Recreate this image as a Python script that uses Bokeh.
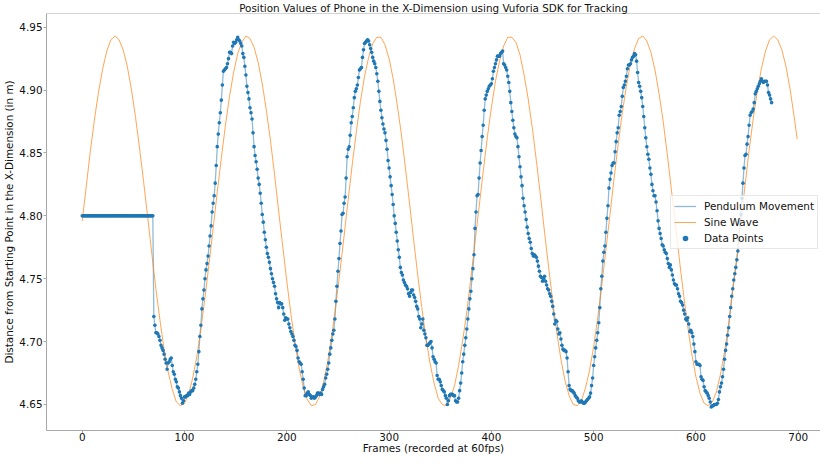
from bokeh.plotting import figure
from bokeh.models import Range1d, FixedTicker, PrintfTickFormatter, Legend, LegendItem, Span
from bokeh.embed import file_html
from bokeh.resources import INLINE

# ---------------- data ----------------
# phone lying still before the pendulum is released (frames 0-69)
still_phase = [
    4.800, 4.800, 4.800, 4.800, 4.800, 4.800, 4.800, 4.800, 4.800, 4.800,
    4.800, 4.800, 4.800, 4.800, 4.800, 4.800, 4.800, 4.800, 4.800, 4.800,
    4.800, 4.800, 4.800, 4.800, 4.800, 4.800, 4.800, 4.800, 4.800, 4.800,
    4.800, 4.800, 4.800, 4.800, 4.800, 4.800, 4.800, 4.800, 4.800, 4.800,
    4.800, 4.800, 4.800, 4.800, 4.800, 4.800, 4.800, 4.800, 4.800, 4.800,
    4.800, 4.800, 4.800, 4.800, 4.800, 4.800, 4.800, 4.800, 4.800, 4.800,
    4.800, 4.800, 4.800, 4.800, 4.800, 4.800, 4.800, 4.800, 4.800, 4.800,
]
# frames 70-199
swing_1 = [
    4.720, 4.713, 4.707, 4.707, 4.706, 4.704, 4.701, 4.697, 4.695, 4.693,
    4.690, 4.686, 4.683, 4.678, 4.683, 4.684, 4.686, 4.687, 4.681, 4.676,
    4.674, 4.670, 4.668, 4.664, 4.663, 4.660, 4.657, 4.655, 4.651, 4.653,
    4.656, 4.656, 4.657, 4.657, 4.659, 4.658, 4.660, 4.661, 4.661, 4.663,
    4.666, 4.670, 4.676, 4.682, 4.692, 4.704, 4.713, 4.726, 4.734, 4.741,
    4.750, 4.757, 4.762, 4.768, 4.776, 4.784, 4.792, 4.803, 4.810, 4.816,
    4.826, 4.840, 4.855, 4.865, 4.874, 4.882, 4.892, 4.904, 4.915, 4.916,
    4.917, 4.918, 4.921, 4.925, 4.930, 4.930, 4.929, 4.935, 4.938, 4.937,
    4.938, 4.940, 4.942, 4.940, 4.939, 4.937, 4.935, 4.929, 4.926, 4.919,
    4.912, 4.903, 4.898, 4.893, 4.886, 4.882, 4.877, 4.866, 4.855, 4.848,
    4.843, 4.837, 4.830, 4.825, 4.818, 4.810, 4.801, 4.795, 4.787, 4.781,
    4.775, 4.770, 4.767, 4.763, 4.758, 4.754, 4.750, 4.747, 4.744, 4.738,
    4.734, 4.731, 4.727, 4.731, 4.730, 4.730, 4.727, 4.722, 4.717, 4.719,
]
# frames 200-329
swing_2 = [
    4.718, 4.718, 4.714, 4.711, 4.708, 4.706, 4.704, 4.701, 4.697, 4.696,
    4.693, 4.687, 4.684, 4.683, 4.682, 4.676, 4.670, 4.663, 4.657, 4.657,
    4.659, 4.660, 4.658, 4.657, 4.655, 4.656, 4.656, 4.655, 4.656, 4.657,
    4.659, 4.659, 4.658, 4.659, 4.658, 4.662, 4.664, 4.666, 4.671, 4.674,
    4.678, 4.683, 4.690, 4.695, 4.701, 4.706, 4.709, 4.718, 4.732, 4.744,
    4.756, 4.766, 4.778, 4.788, 4.801, 4.802, 4.810, 4.815, 4.830, 4.847,
    4.853, 4.855, 4.864, 4.874, 4.879, 4.886, 4.894, 4.899, 4.901, 4.904,
    4.910, 4.916, 4.917, 4.918, 4.926, 4.932, 4.937, 4.938, 4.939, 4.940,
    4.939, 4.936, 4.933, 4.930, 4.926, 4.923, 4.921, 4.918, 4.913, 4.907,
    4.899, 4.891, 4.884, 4.878, 4.873, 4.869, 4.866, 4.860, 4.853, 4.844,
    4.838, 4.831, 4.824, 4.817, 4.809, 4.800, 4.794, 4.787, 4.780, 4.773,
    4.767, 4.759, 4.755, 4.753, 4.749, 4.747, 4.745, 4.744, 4.742, 4.738,
    4.736, 4.739, 4.741, 4.741, 4.737, 4.735, 4.732, 4.728, 4.726, 4.720,
]
# frames 330-459
swing_3 = [
    4.718, 4.711, 4.714, 4.718, 4.709, 4.706, 4.703, 4.697, 4.697, 4.698,
    4.699, 4.700, 4.695, 4.688, 4.686, 4.684, 4.683, 4.673, 4.670, 4.670,
    4.668, 4.665, 4.662, 4.661, 4.660, 4.657, 4.655, 4.650, 4.653, 4.657,
    4.658, 4.658, 4.658, 4.657, 4.657, 4.653, 4.652, 4.652, 4.655, 4.661,
    4.667, 4.675, 4.684, 4.690, 4.697, 4.703, 4.710, 4.718, 4.726, 4.734,
    4.740, 4.750, 4.758, 4.769, 4.790, 4.803, 4.816, 4.817, 4.830, 4.842,
    4.852, 4.863, 4.872, 4.884, 4.893, 4.896, 4.899, 4.901, 4.903, 4.904,
    4.905, 4.909, 4.915, 4.918, 4.921, 4.924, 4.927, 4.927, 4.927, 4.929,
    4.930, 4.931, 4.921, 4.920, 4.918, 4.916, 4.911, 4.906, 4.899, 4.890,
    4.883, 4.876, 4.870, 4.865, 4.863, 4.862, 4.855, 4.847, 4.839, 4.831,
    4.824, 4.814, 4.808, 4.803, 4.797, 4.791, 4.786, 4.782, 4.779, 4.774,
    4.770, 4.768, 4.769, 4.768, 4.767, 4.764, 4.760, 4.756, 4.752, 4.751,
    4.748, 4.750, 4.752, 4.748, 4.745, 4.742, 4.741, 4.738, 4.736, 4.732,
]
# frames 460-589
swing_4 = [
    4.728, 4.722, 4.714, 4.717, 4.716, 4.710, 4.706, 4.707, 4.702, 4.697,
    4.694, 4.693, 4.693, 4.692, 4.687, 4.676, 4.665, 4.662, 4.661, 4.661,
    4.660, 4.659, 4.657, 4.656, 4.655, 4.653, 4.652, 4.652, 4.653, 4.652,
    4.651, 4.651, 4.652, 4.653, 4.654, 4.655, 4.656, 4.659, 4.665, 4.671,
    4.681, 4.688, 4.695, 4.701, 4.707, 4.715, 4.727, 4.742, 4.752, 4.764,
    4.771, 4.776, 4.787, 4.798, 4.808, 4.822, 4.829, 4.834, 4.840, 4.842,
    4.842, 4.851, 4.859, 4.866, 4.870, 4.880, 4.883, 4.887, 4.895, 4.902,
    4.904, 4.907, 4.911, 4.917, 4.920, 4.920, 4.921, 4.924, 4.926, 4.927,
    4.929, 4.928, 4.923, 4.914, 4.906, 4.903, 4.899, 4.894, 4.887, 4.879,
    4.870, 4.862, 4.855, 4.849, 4.845, 4.838, 4.833, 4.825, 4.820, 4.816,
    4.816, 4.811, 4.804, 4.796, 4.790, 4.786, 4.782, 4.777, 4.776, 4.773,
    4.771, 4.770, 4.766, 4.762, 4.759, 4.761, 4.757, 4.753, 4.749, 4.746,
    4.745, 4.745, 4.742, 4.738, 4.736, 4.732, 4.731, 4.729, 4.725, 4.722,
]
# frames 590-674
swing_5 = [
    4.718, 4.717, 4.719, 4.714, 4.708, 4.709, 4.707, 4.704, 4.698, 4.692,
    4.684, 4.682, 4.682, 4.682, 4.681, 4.672, 4.670, 4.669, 4.664, 4.661,
    4.660, 4.659, 4.657, 4.655, 4.652, 4.648, 4.649, 4.649, 4.650, 4.650,
    4.650, 4.651, 4.654, 4.660, 4.664, 4.667, 4.672, 4.678, 4.686, 4.693,
    4.698, 4.705, 4.711, 4.720, 4.727, 4.736, 4.742, 4.749, 4.754, 4.759,
    4.765, 4.772, 4.781, 4.795, 4.801, 4.814, 4.826, 4.838, 4.848, 4.849,
    4.857, 4.863, 4.872, 4.880, 4.882, 4.883, 4.885, 4.890, 4.897, 4.899,
    4.901, 4.903, 4.905, 4.907, 4.909, 4.907, 4.906, 4.907, 4.907, 4.907,
    4.904, 4.898, 4.896, 4.893, 4.890,
]

# reference sine wave, read every 4 frames (0..696) plus the last frame 699
sine_values = [
    4.796, 4.824, 4.852, 4.877, 4.899, 4.917, 4.931, 4.940, 4.943, 4.940,
    4.932, 4.919, 4.901, 4.879, 4.854, 4.827, 4.799, 4.770, 4.742, 4.717,
    4.694, 4.676, 4.662, 4.652, 4.649, 4.651, 4.658, 4.671, 4.688, 4.710,
    4.735, 4.762, 4.790,
    4.819, 4.846, 4.872, 4.895, 4.914, 4.929, 4.938, 4.943, 4.941, 4.934,
    4.922, 4.905, 4.884, 4.860, 4.833, 4.804, 4.776, 4.748, 4.722, 4.699,
    4.679, 4.664, 4.654, 4.649, 4.650, 4.656, 4.668, 4.684, 4.705, 4.729,
    4.756, 4.784,
    4.813, 4.841, 4.867, 4.891, 4.911, 4.926, 4.937, 4.942, 4.942, 4.936,
    4.925, 4.909, 4.888, 4.865, 4.838, 4.810, 4.781, 4.753, 4.727, 4.703,
    4.683, 4.667, 4.655, 4.650, 4.649, 4.655, 4.665, 4.681, 4.701, 4.724,
    4.751, 4.779,
    4.807, 4.835, 4.862, 4.886, 4.907, 4.923, 4.935, 4.942, 4.942, 4.938,
    4.928, 4.912, 4.893, 4.870, 4.844, 4.816, 4.787, 4.759, 4.732, 4.707,
    4.686, 4.669, 4.657, 4.650, 4.649, 4.653, 4.663, 4.677, 4.696, 4.719,
    4.745, 4.773,
    4.801, 4.830, 4.857, 4.882, 4.903, 4.921, 4.933, 4.941, 4.943, 4.939,
    4.930, 4.916, 4.897, 4.875, 4.849, 4.821, 4.793, 4.764, 4.737, 4.712,
    4.690, 4.672, 4.659, 4.651, 4.649, 4.652, 4.660, 4.674, 4.692, 4.714,
    4.740, 4.767,
    4.796, 4.824, 4.852, 4.877, 4.899, 4.917, 4.931, 4.940, 4.943, 4.940,
    4.932, 4.919, 4.901, 4.879, 4.861,
]
sine_frames = list(range(0, 697, 4)) + [699]

x_ticks = [0, 100, 200, 300, 400, 500, 600, 700]
y_ticks = [4.65, 4.70, 4.75, 4.80, 4.85, 4.90, 4.95]

position = still_phase + swing_1 + swing_2 + swing_3 + swing_4 + swing_5
frames = list(range(len(position)))

# ---------------- figure ----------------
FONT = "DejaVu Sans"
FS = "10.4px"
TXT = "#111111"
SPINE = "#a8a8a8"

p = figure(
    width=820, height=456,
    output_backend="svg", toolbar_location=None,
    x_range=Range1d(-34.95, 721.8), y_range=Range1d(4.6293, 4.9609),
    min_border_left=43, min_border_right=0, min_border_top=0, min_border_bottom=0,
    title="Position Values of Phone in the X-Dimension using Vuforia SDK for Tracking",
    background_fill_color="white", border_fill_color="white",
)
p.outline_line_color = None
p.grid.visible = False

p.title.text_font = FONT
p.title.text_font_size = FS
p.title.text_font_style = "normal"
p.title.text_color = TXT
p.title.align = "center"
p.title.offset = 7
p.title.standoff = -1

for ax in (p.xaxis[0], p.yaxis[0]):
    ax.axis_line_color = SPINE
    ax.major_tick_line_color = SPINE
    ax.minor_tick_line_color = None
    ax.major_tick_in = 0
    ax.major_tick_out = 3
    ax.major_label_text_font = FONT
    ax.major_label_text_font_size = FS
    ax.major_label_text_color = TXT
    ax.axis_label_text_font = FONT
    ax.axis_label_text_font_size = FS
    ax.axis_label_text_font_style = "normal"
    ax.axis_label_text_color = TXT
    ax.axis_label_standoff = 1
    ax.major_label_standoff = 1

p.xaxis.ticker = FixedTicker(ticks=x_ticks)
p.yaxis.ticker = FixedTicker(ticks=y_ticks)
p.yaxis.formatter = PrintfTickFormatter(format="%.2f")
p.xaxis.axis_label = "Frames (recorded at 60fps)"
p.yaxis.axis_label = "Distance from Starting Point in the X-Dimension (in m)"
p.xaxis.axis_label_standoff = -2
p.xaxis.major_label_standoff = -1

# top spine
p.add_layout(Span(location=4.9609, dimension="width", line_color=SPINE, line_width=1))

r_line = p.line(frames, position, line_color="#1f77b4", line_alpha=0.5, line_width=1.3)
r_sine = p.line(sine_frames, sine_values, line_color="#ff7f0e", line_alpha=0.7, line_width=1)
r_pts = p.scatter(frames, position, size=3.6, marker="circle",
                  fill_color="#1f77b4", line_color=None)

legend = Legend(items=[
    LegendItem(label="Pendulum Movement", renderers=[r_line]),
    LegendItem(label="Sine Wave", renderers=[r_sine]),
    LegendItem(label="Data Points", renderers=[r_pts]),
])
legend.location = "right"
legend.margin = 2
legend.padding = 3
legend.spacing = 2
legend.glyph_width = 22
legend.glyph_height = 14
legend.label_height = 14
legend.label_standoff = 8
legend.label_text_font = FONT
legend.label_text_font_size = FS
legend.label_text_color = TXT
legend.border_line_color = "#d0d0d0"
legend.background_fill_alpha = 0.8
p.add_layout(legend)

open("out.html", "w").write(file_html(p, INLINE))
